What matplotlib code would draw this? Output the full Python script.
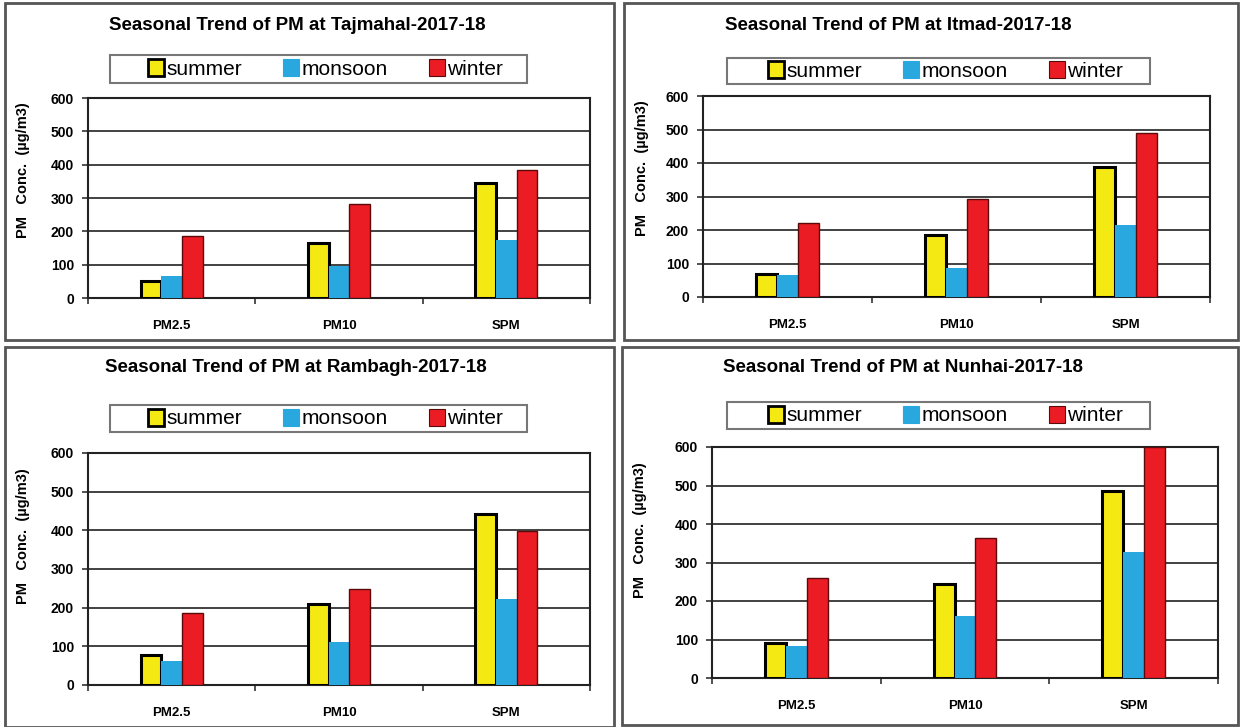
import numpy as np
import matplotlib.pyplot as plt
from matplotlib.patches import Rectangle, Patch

plt.rcParams['font.family'] = ['Liberation Sans', 'DejaVu Sans']

# data
categories = ['PM2.5', 'PM10', 'SPM']
seasons = ['summer', 'monsoon', 'winter']
sites = ['Tajmahal', 'Itmad', 'Rambagh', 'Nunhai']

tajmahal_summer = [52, 165, 345]
tajmahal_monsoon = [65, 97, 175]
tajmahal_winter = [185, 283, 385]

itmad_summer = [68, 185, 388]
itmad_monsoon = [65, 88, 215]
itmad_winter = [222, 292, 490]

rambagh_summer = [78, 210, 442]
rambagh_monsoon = [62, 112, 222]
rambagh_winter = [187, 247, 398]

nunhai_summer = [90, 243, 487]
nunhai_monsoon = [82, 160, 327]
nunhai_winter = [260, 363, 600]

site_values = [
    (tajmahal_summer, tajmahal_monsoon, tajmahal_winter),
    (itmad_summer, itmad_monsoon, itmad_winter),
    (rambagh_summer, rambagh_monsoon, rambagh_winter),
    (nunhai_summer, nunhai_monsoon, nunhai_winter),
]

W, H = 1240, 727
colors = ['#F5E914', '#29A8DF', '#EC1C24']
edges = ['black', '#29A8DF', '#5a0a0a']
lws = [2.2, 0.0, 1.0]


def fx(x):
    return x / W


def fy(y):
    return 1 - y / H


# panel boxes, axes boxes, title centre, legend box (pixels)
panels = [(5, 3, 614, 340), (624, 3, 1238, 340), (5, 347, 614, 727), (622, 347, 1238, 725)]
axboxes = [(88, 98, 590, 298), (703, 96, 1210, 297), (88, 453, 590, 685), (712, 447, 1218, 678)]
titles_xy = [(297, 25), (898, 25), (296, 367), (903, 367)]
legboxes = [(110, 55, 527, 83), (727, 58, 1150, 84), (110, 405, 527, 432), (727, 402, 1150, 429)]

fig = plt.figure(figsize=(12.4, 7.27), dpi=100)

for i in range(4):
    px0, py0, px1, py1 = panels[i]
    fig.add_artist(Rectangle((fx(px0), fy(py1)), fx(px1 - px0), (py1 - py0) / H,
                             transform=fig.transFigure, fill=False,
                             edgecolor='#555555', linewidth=2))

    x0, y0, x1, y1 = axboxes[i]
    ax = fig.add_axes([fx(x0), fy(y1), fx(x1 - x0), (y1 - y0) / H])
    x = np.arange(len(categories))
    w = 0.124
    for j, vals in enumerate(site_values[i]):
        ax.bar(x + (j - 1) * w, vals, w, color=colors[j], edgecolor=edges[j],
               linewidth=lws[j], zorder=3)

    ax.set_ylim(0, 600)
    ax.set_xlim(-0.5, 2.5)
    ax.set_yticks(range(0, 601, 100))
    ax.yaxis.grid(True, color='#333333', linewidth=1.3, zorder=0)
    ax.set_xticks(x)
    ax.set_xticklabels(categories, fontsize=9.5, fontweight='bold')
    ax.set_xticks([-0.5, 0.5, 1.5, 2.5], minor=True)
    ax.tick_params(axis='x', which='major', length=0, pad=16)
    ax.tick_params(axis='x', which='minor', length=4, width=1.2, color='#333333')
    ax.tick_params(axis='y', length=4, width=1.2, color='#333333', pad=6)
    for lab in ax.get_yticklabels():
        lab.set_fontsize(10)
        lab.set_fontweight('bold')
    for s in ax.spines.values():
        s.set_color('#222222')
        s.set_linewidth(1.5)
    ax.set_ylabel('PM   Conc.  (\u00b5g/m3)', fontsize=10.5, fontweight='bold')
    ax.yaxis.set_label_coords((px0 + 25 - x0) / (x1 - x0), 0.64)

    tx, ty = titles_xy[i]
    fig.text(fx(tx), fy(ty), 'Seasonal Trend of PM at %s-2017-18' % sites[i],
             ha='center', va='center', fontsize=13.5, fontweight='bold')

    # legend frame drawn separately (behind), legend entries centred inside it
    lx0, ly0, lx1, ly1 = legboxes[i]
    fig.add_artist(Rectangle((fx(lx0), fy(ly1)), fx(lx1 - lx0), (ly1 - ly0) / H,
                             transform=fig.transFigure, facecolor='white',
                             edgecolor='#777777', linewidth=1.5, zorder=-1))
    handles = [Patch(facecolor=colors[j], edgecolor='black' if j == 0 else edges[j],
                     linewidth=2 if j == 0 else 0.8) for j in range(3)]
    leg = ax.legend(handles, seasons, loc='center', ncol=3,
                    bbox_to_anchor=(fx((lx0 + lx1) / 2 + 7), fy((ly0 + ly1) / 2)),
                    bbox_transform=fig.transFigure,
                    fontsize=15, frameon=False,
                    handlelength=0.75, handleheight=0.9, handletextpad=0.1,
                    columnspacing=2.0, borderpad=0, borderaxespad=0)

fig.savefig('out.png', dpi=100)
